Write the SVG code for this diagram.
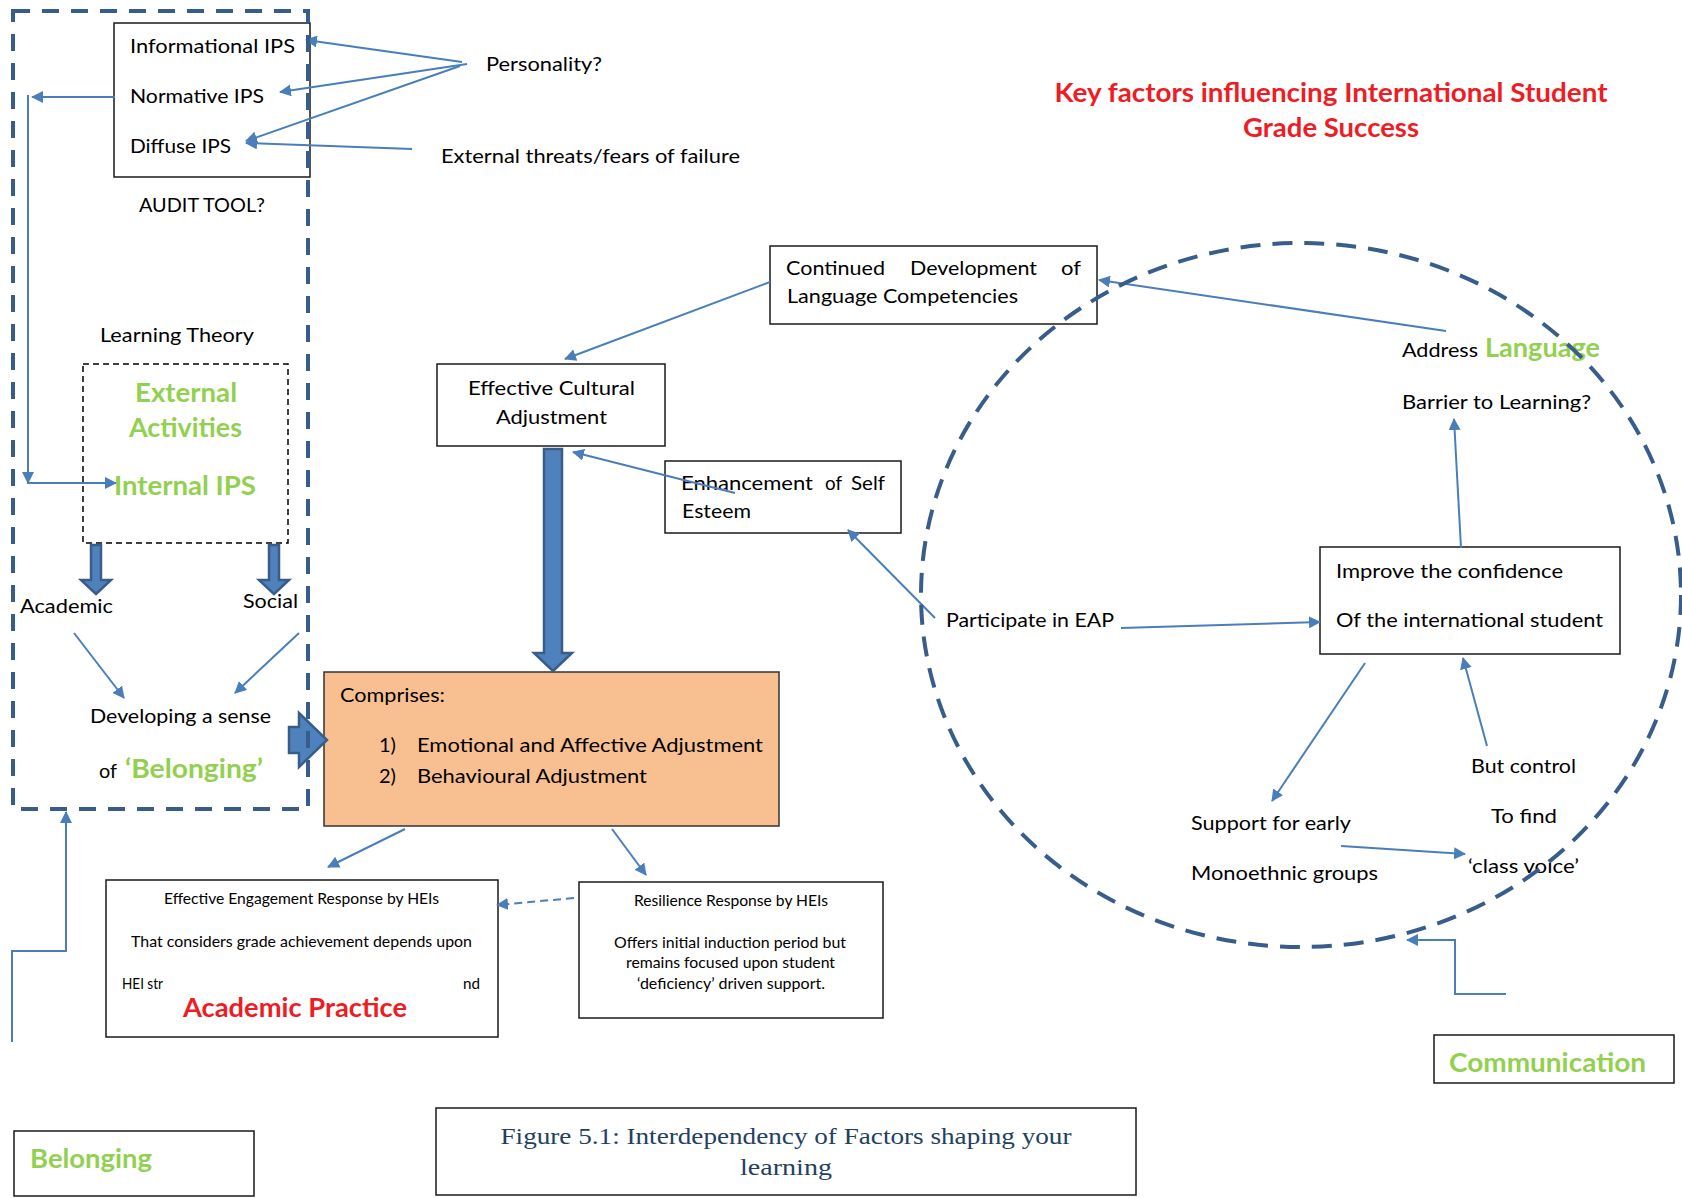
<svg xmlns="http://www.w3.org/2000/svg" width="1682" height="1198" viewBox="0 0 1682 1198">
<style>
text{font-family:Lato,"Liberation Sans",sans-serif;font-size:20px;fill:#000}
.s{font-size:15px}
.g{font-weight:bold;fill:#92D050;font-size:26px}
.r{font-weight:bold;fill:#EE1C25;font-size:26px}
.cap{font-family:"Liberation Serif",serif;font-size:24px;fill:#243F60}
.box{fill:none;stroke:#1a1a1a;stroke-width:1.5}
.cn{stroke:#4A7EBB;stroke-width:2;fill:none;marker-end:url(#ah)}
.ln{stroke:#4A7EBB;stroke-width:2;fill:none}
.blk{fill:#4F81BD;stroke:#385D8A;stroke-width:2.5;stroke-linejoin:miter}
.dsh{fill:none;stroke:#385D8A;stroke-width:4;stroke-dasharray:17 12}
</style>
<defs>
<marker id="ah" markerWidth="12" markerHeight="12" viewBox="0 0 12 12" refX="11" refY="6" orient="auto" markerUnits="userSpaceOnUse"><path d="M0,0 L12,6 L0,12 z" fill="#4A7EBB"/></marker>
</defs>
<rect width="1682" height="1198" fill="#fff"/>

<g id="title">
<text class="r" x="1331" y="102" text-anchor="middle" textLength="553" lengthAdjust="spacingAndGlyphs">Key factors influencing International Student</text>
<text class="r" x="1331" y="137" text-anchor="middle" textLength="176" lengthAdjust="spacingAndGlyphs">Grade Success</text>
</g>

<g id="ips-box">
<rect class="box" x="114" y="23" width="196" height="154"/>
<text x="130" y="53" textLength="165" lengthAdjust="spacingAndGlyphs">Informational IPS</text>
<text x="130" y="103" textLength="134" lengthAdjust="spacingAndGlyphs">Normative IPS</text>
<text x="130" y="153" textLength="101" lengthAdjust="spacingAndGlyphs">Diffuse IPS</text>
</g>
<g id="personality"><text x="486" y="71" textLength="116" lengthAdjust="spacingAndGlyphs">Personality?</text></g>
<g id="threats"><text x="441" y="163" textLength="299" lengthAdjust="spacingAndGlyphs">External threats/fears of failure</text></g>
<g id="audit"><text x="139" y="212" textLength="126" lengthAdjust="spacingAndGlyphs">AUDIT TOOL?</text></g>
<g id="learning-theory"><text x="100" y="342" textLength="154" lengthAdjust="spacingAndGlyphs">Learning Theory</text></g>

<g id="external-box">
<rect x="83" y="364" width="205" height="179" fill="none" stroke="#000" stroke-width="1.5" stroke-dasharray="6 4"/>
<text class="g" x="135" y="402" textLength="102" lengthAdjust="spacingAndGlyphs">External</text>
<text class="g" x="129" y="437" textLength="113" lengthAdjust="spacingAndGlyphs">Activities</text>
<text class="g" x="114" y="495" textLength="142" lengthAdjust="spacingAndGlyphs">Internal IPS</text>
</g>
<g id="academic"><text x="20" y="613" textLength="93" lengthAdjust="spacingAndGlyphs">Academic</text></g>
<g id="social"><text x="243" y="608" textLength="55" lengthAdjust="spacingAndGlyphs">Social</text></g>
<g id="belonging-sense">
<text x="90" y="723" textLength="181" lengthAdjust="spacingAndGlyphs">Developing a sense</text>
<text x="99" y="778" textLength="18" lengthAdjust="spacingAndGlyphs">of</text>
<text class="g" x="125" y="778" textLength="138" lengthAdjust="spacingAndGlyphs">‘Belonging’</text>
</g>

<g id="eca-box">
<rect class="box" x="437" y="364" width="228" height="82"/>
<text x="468" y="395" textLength="167" lengthAdjust="spacingAndGlyphs">Effective  Cultural</text>
<text x="496" y="424" textLength="111" lengthAdjust="spacingAndGlyphs">Adjustment</text>
</g>

<g id="continued-box">
<rect class="box" x="770" y="246" width="327" height="78"/>
<text y="275"><tspan x="786" textLength="99" lengthAdjust="spacingAndGlyphs">Continued</tspan><tspan x="910" textLength="127" lengthAdjust="spacingAndGlyphs">Development</tspan><tspan x="1061" textLength="20" lengthAdjust="spacingAndGlyphs">of</tspan></text>
<text x="787" y="303" textLength="231" lengthAdjust="spacingAndGlyphs">Language Competencies</text>
</g>

<g id="enhancement-box">
<rect class="box" x="665" y="461" width="236" height="72"/>
<text y="490"><tspan x="681" textLength="132" lengthAdjust="spacingAndGlyphs">Enhancement</tspan><tspan x="825" textLength="17" lengthAdjust="spacingAndGlyphs">of</tspan><tspan x="851" textLength="34" lengthAdjust="spacingAndGlyphs">Self</tspan></text>
<text x="682" y="518" textLength="69" lengthAdjust="spacingAndGlyphs">Esteem</text>
</g>

<g id="comprises-box">
<rect x="324" y="672" width="455" height="154" fill="#F8C090" stroke="#333" stroke-width="1.5"/>
<text x="340" y="702" textLength="105" lengthAdjust="spacingAndGlyphs">Comprises:</text>
<text x="379" y="752">1)</text>
<text x="417" y="752" textLength="346" lengthAdjust="spacingAndGlyphs">Emotional and Affective Adjustment</text>
<text x="379" y="783">2)</text>
<text x="417" y="783" textLength="230" lengthAdjust="spacingAndGlyphs">Behavioural Adjustment</text>
</g>

<g id="eer-box">
<rect class="box" x="106" y="880" width="392" height="157"/>
<text class="s" x="164" y="904" textLength="275" lengthAdjust="spacingAndGlyphs">Effective Engagement Response by HEIs</text>
<text class="s" x="131" y="947" textLength="341" lengthAdjust="spacingAndGlyphs">That considers grade achievement depends upon</text>
<text class="s" x="122" y="989" textLength="41" lengthAdjust="spacingAndGlyphs">HEI str</text>
<text class="s" x="463" y="989" textLength="17" lengthAdjust="spacingAndGlyphs">nd</text>
<text class="r" x="183" y="1017" textLength="224" lengthAdjust="spacingAndGlyphs">Academic Practice</text>
</g>

<g id="resilience-box">
<rect class="box" x="579" y="882" width="304" height="136"/>
<text class="s" x="634" y="906" textLength="194" lengthAdjust="spacingAndGlyphs">Resilience Response by HEIs</text>
<text class="s" x="614" y="948" textLength="232" lengthAdjust="spacingAndGlyphs">Offers initial induction period but</text>
<text class="s" x="626" y="968" textLength="209" lengthAdjust="spacingAndGlyphs">remains focused upon student</text>
<text class="s" x="637" y="989" textLength="188" lengthAdjust="spacingAndGlyphs">‘deficiency’ driven support.</text>
</g>

<g id="address-language">
<text x="1402" y="357" textLength="76" lengthAdjust="spacingAndGlyphs">Address</text>
<text class="g" x="1485" y="357" textLength="115" lengthAdjust="spacingAndGlyphs">Language</text>
</g>
<g id="barrier"><text x="1402" y="409" textLength="189" lengthAdjust="spacingAndGlyphs">Barrier to Learning?</text></g>

<g id="improve-box">
<rect class="box" x="1320" y="547" width="300" height="107"/>
<text x="1336" y="578" textLength="227" lengthAdjust="spacingAndGlyphs">Improve the confidence</text>
<text x="1336" y="627" textLength="267" lengthAdjust="spacingAndGlyphs">Of the international student</text>
</g>
<g id="eap"><text x="946" y="627" textLength="168" lengthAdjust="spacingAndGlyphs">Participate in EAP</text></g>
<g id="support">
<text x="1191" y="830" textLength="160" lengthAdjust="spacingAndGlyphs">Support for early</text>
<text x="1191" y="880" textLength="187" lengthAdjust="spacingAndGlyphs">Monoethnic groups</text>
</g>
<g id="control">
<text x="1471" y="773" textLength="105" lengthAdjust="spacingAndGlyphs">But control</text>
<text x="1491" y="823" textLength="66" lengthAdjust="spacingAndGlyphs">To find</text>
<text x="1468" y="873" textLength="111" lengthAdjust="spacingAndGlyphs">‘class voice’</text>
</g>

<g id="communication-box">
<rect class="box" x="1434" y="1035" width="240" height="48"/>
<text class="g" x="1449" y="1072" textLength="197" lengthAdjust="spacingAndGlyphs">Communication</text>
</g>
<g id="belonging-box">
<rect class="box" x="14" y="1131" width="240" height="65"/>
<text class="g" x="30" y="1168" textLength="122" lengthAdjust="spacingAndGlyphs">Belonging</text>
</g>
<g id="figure-caption">
<rect class="box" x="436" y="1108" width="700" height="87"/>
<text class="cap" x="786" y="1144" text-anchor="middle" textLength="571" lengthAdjust="spacingAndGlyphs">Figure 5.1: Interdependency of Factors shaping your</text>
<text class="cap" x="786" y="1175" text-anchor="middle" textLength="92" lengthAdjust="spacingAndGlyphs">learning</text>
</g>

<g id="connectors">
<path class="blk" d="M544,449 H562 V653 H572 L553,671 L534,653 H544 Z"/>
<path class="blk" d="M91,545 H101 V580 H111 L96,594 L81,580 H91 Z"/>
<path class="blk" d="M269,545 H279 V580 H289 L274,594 L259,580 H269 Z"/>
<path class="blk" d="M289,727 H299 V713 L327,740 L299,767 V753 H289 Z"/>

<line class="cn" x1="462" y1="62" x2="306" y2="40"/>
<line class="cn" x1="467" y1="64" x2="280" y2="92"/>
<line class="cn" x1="460" y1="66" x2="246" y2="141"/>
<line class="cn" x1="412" y1="149" x2="246" y2="143"/>
<line class="cn" x1="115" y1="97" x2="32" y2="97"/>
<line class="cn" x1="28" y1="95" x2="28" y2="483"/>
<line class="cn" x1="27" y1="483" x2="116" y2="483"/>
<line class="cn" x1="74" y1="633" x2="124" y2="698"/>
<line class="cn" x1="299" y1="633" x2="235" y2="693"/>
<line class="cn" x1="770" y1="282" x2="565" y2="359"/>
<line class="cn" x1="735" y1="493" x2="573" y2="452"/>
<line class="cn" x1="405" y1="829" x2="328" y2="867"/>
<line class="cn" x1="612" y1="829" x2="646" y2="875"/>
<line class="cn" x1="574" y1="898" x2="497" y2="905" stroke-dasharray="8 5"/>
<polyline class="cn" points="12,1042 12,951 66,951 66,812"/>
<line class="cn" x1="1446" y1="331" x2="1099" y2="280"/>
<line class="cn" x1="1461" y1="548" x2="1454" y2="419"/>
<line class="cn" x1="1121" y1="628" x2="1320" y2="622"/>
<line class="cn" x1="935" y1="618" x2="848" y2="530"/>
<line class="cn" x1="1365" y1="663" x2="1272" y2="801"/>
<line class="cn" x1="1487" y1="746" x2="1463" y2="658"/>
<line class="cn" x1="1341" y1="846" x2="1465" y2="854"/>
<polyline class="cn" points="1506,994 1455,994 1455,940 1407,940"/>
</g>

<g id="outer-frames">
<rect class="dsh" x="13" y="11" width="295" height="798"/>
<ellipse cx="1301" cy="595" rx="380" ry="352" fill="none" stroke="#385D8A" stroke-width="4" stroke-dasharray="20 12"/>
</g>
</svg>
